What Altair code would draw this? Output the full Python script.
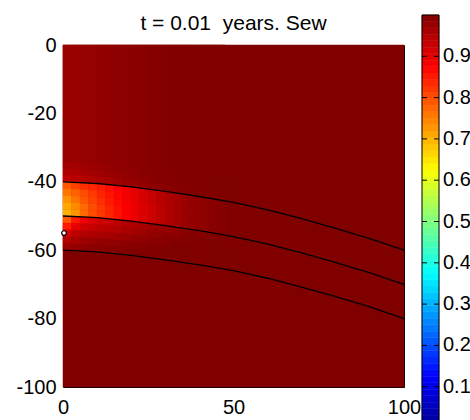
import numpy as np
import pandas as pd
import altair as alt

FONT = "Liberation Sans"

# layer boundaries (depth in m) sampled along the section
CURVE_X = [0, 10, 20, 30, 40, 50, 60, 70, 80, 90, 100]
TOP = [-40.0, -40.5, -41.5, -42.8, -44.3, -46.0, -48.2, -50.8, -53.6, -56.6, -60.0]
MID = [-50.0, -50.5, -51.5, -52.8, -54.3, -56.0, -58.2, -60.8, -63.6, -66.6, -70.0]
BOT = [-60.0, -60.5, -61.5, -62.8, -64.3, -66.0, -68.2, -70.8, -73.6, -76.6, -80.0]

# injection point
WELL_X = [0.3]
WELL_Y = [-55.0]

# saturation columns near the left boundary (column centres, 2.5 m wide)
COL_X = [1.25, 3.75, 6.25, 8.75, 11.25, 13.75, 16.25, 18.75, 21.25, 23.75,
         26.25, 28.75, 31.25, 33.75, 36.25, 38.75, 41.25, 43.75, 46.25]
COL_W = 2.5

# upper layer: far field, then 2 m bands just above the top boundary
UP_FAR = [0.975, 0.975, 0.977, 0.979, 0.981, 0.983, 0.985, 0.987, 0.989, 0.991,
          0.993, 0.995, 0.997, 0.998, 0.999, 1.0, 1.0, 1.0, 1.0]
UP_6 = [0.965, 0.967, 0.970, 0.973, 0.976, 0.979, 0.982, 0.985, 0.987, 0.990,
        0.992, 0.994, 0.996, 0.998, 0.999, 1.0, 1.0, 1.0, 1.0]
UP_4 = [0.955, 0.957, 0.961, 0.965, 0.969, 0.973, 0.977, 0.981, 0.984, 0.987,
        0.990, 0.993, 0.995, 0.997, 0.998, 0.999, 1.0, 1.0, 1.0]
UP_2 = [0.940, 0.943, 0.948, 0.953, 0.958, 0.963, 0.968, 0.973, 0.977, 0.981,
        0.985, 0.988, 0.991, 0.994, 0.996, 0.998, 0.999, 1.0, 1.0]

# first layer (between top and middle boundary), five bands top to bottom
L1 = [
    [0.79, 0.81, 0.83, 0.84, 0.85, 0.86, 0.875, 0.89, 0.90, 0.915, 0.93, 0.945, 0.955, 0.965, 0.975, 0.98, 0.985, 0.99, 0.995],
    [0.76, 0.78, 0.80, 0.82, 0.84, 0.855, 0.87, 0.885, 0.90, 0.915, 0.93, 0.945, 0.955, 0.965, 0.975, 0.98, 0.985, 0.99, 0.995],
    [0.73, 0.76, 0.79, 0.81, 0.83, 0.85, 0.865, 0.88, 0.895, 0.91, 0.925, 0.94, 0.955, 0.965, 0.975, 0.98, 0.985, 0.99, 0.995],
    [0.71, 0.74, 0.77, 0.80, 0.82, 0.84, 0.86, 0.88, 0.895, 0.91, 0.925, 0.94, 0.955, 0.965, 0.975, 0.98, 0.985, 0.99, 0.995],
    [0.70, 0.73, 0.77, 0.80, 0.82, 0.84, 0.86, 0.88, 0.895, 0.91, 0.925, 0.94, 0.955, 0.965, 0.975, 0.98, 0.985, 0.99, 0.995],
]

# second layer, 2 m bands below the middle boundary
L2 = [
    [0.79, 0.85, 0.89, 0.91, 0.92, 0.93, 0.94, 0.95, 0.955, 0.96, 0.97, 0.975, 0.98, 0.985, 0.99, 0.993, 0.996, 0.998, 1.0],
    [0.85, 0.90, 0.92, 0.93, 0.94, 0.945, 0.95, 0.96, 0.965, 0.97, 0.98, 0.985, 0.99, 0.99, 0.995, 0.997, 0.998, 1.0, 1.0],
    [0.91, 0.94, 0.95, 0.955, 0.96, 0.965, 0.97, 0.975, 0.98, 0.985, 0.99, 0.99, 0.995, 1.0, 1.0, 1.0, 1.0, 1.0, 1.0],
    [0.95, 0.96, 0.97, 0.975, 0.98, 0.98, 0.985, 0.99, 0.99, 0.995, 1.0, 1.0, 1.0, 1.0, 1.0, 1.0, 1.0, 1.0, 1.0],
    [0.97, 0.98, 0.985, 0.99, 0.99, 0.99, 0.995, 1.0, 1.0, 1.0, 1.0, 1.0, 1.0, 1.0, 1.0, 1.0, 1.0, 1.0, 1.0],
]

BACKGROUND = 1.0

# jet colour map, shown as a 64-step colour bar
JET_STOPS = [0.0, 0.125, 0.375, 0.625, 0.875, 1.0]
JET_COLORS = ["#00008f", "#0000ff", "#00ffff", "#ffff00", "#ff0000", "#800000"]
CBAR_STEPS = 64
CBAR_TICKS = [0.1, 0.2, 0.3, 0.4, 0.5, 0.6, 0.7, 0.8, 0.9]

TITLE = "t = 0.01\u00a0 years. Sew"

# ---- build the cell table ----
cells = [dict(x0=0.0, x1=100.0, y0=-100.0, y1=0.0, v=BACKGROUND)]
for i, cx in enumerate(COL_X):
    x0, x1 = cx - COL_W / 2, cx + COL_W / 2
    t = float(np.interp(cx, CURVE_X, TOP))
    m = float(np.interp(cx, CURVE_X, MID))
    cells.append(dict(x0=x0, x1=x1, y0=t + 6, y1=0.0, v=UP_FAR[i]))
    for (lo, hi), row in zip([(4, 6), (2, 4), (0, 2)], [UP_6, UP_4, UP_2]):
        cells.append(dict(x0=x0, x1=x1, y0=t + lo, y1=t + hi, v=row[i]))
    h = (t - m) / len(L1)
    for k, row in enumerate(L1):
        cells.append(dict(x0=x0, x1=x1, y0=t - (k + 1) * h, y1=t - k * h, v=row[i]))
    for k, row in enumerate(L2):
        cells.append(dict(x0=x0, x1=x1, y0=m - 2 * (k + 1), y1=m - 2 * k, v=row[i]))
field = pd.DataFrame(cells)

curves = pd.concat([
    pd.DataFrame({"cx": CURVE_X, "cy": TOP, "curve": "top"}),
    pd.DataFrame({"cx": CURVE_X, "cy": MID, "curve": "mid"}),
    pd.DataFrame({"cx": CURVE_X, "cy": BOT, "curve": "bot"}),
])
well = pd.DataFrame({"wx": WELL_X, "wy": WELL_Y})

edges = np.linspace(0.0, 1.0, CBAR_STEPS + 1)
bands = pd.DataFrame({"lo": edges[:-1], "hi": edges[1:], "lv": (edges[:-1] + edges[1:]) / 2})
frame = pd.DataFrame({"lo": [0.0], "hi": [1.0]})
ticks = pd.DataFrame({"t": CBAR_TICKS})

xs = alt.Scale(domain=[0, 100], nice=False, zero=False)
ys = alt.Scale(domain=[-100, 0], nice=False, zero=False)
jet = alt.Scale(domain=JET_STOPS, range=JET_COLORS, interpolate="rgb", clamp=True)

heat = alt.Chart(field).mark_rect(strokeWidth=0.5).encode(
    x=alt.X("x0:Q", scale=xs, axis=alt.Axis(values=[0, 50, 100], title=None,
                                            labelPadding=10, labelFlush=False)),
    x2="x1:Q",
    y=alt.Y("y0:Q", scale=ys, axis=alt.Axis(values=[0, -20, -40, -60, -80, -100], title=None,
                                            labelPadding=7, labelFlush=False,
                                            labelExpr="'' + datum.value")),
    y2="y1:Q",
    color=alt.Color("v:Q", scale=jet, legend=None),
    stroke=alt.Stroke("v:Q", scale=jet, legend=None),
)

lines = alt.Chart(curves).mark_line(color="black", strokeWidth=1.3).encode(
    x=alt.X("cx:Q", scale=xs),
    y=alt.Y("cy:Q", scale=ys),
    detail="curve:N",
)

point = alt.Chart(well).mark_point(shape="circle", filled=True, fill="white",
                                   stroke="black", strokeWidth=1.2, size=22, opacity=1).encode(
    x=alt.X("wx:Q", scale=xs),
    y=alt.Y("wy:Q", scale=ys),
)

main = alt.layer(heat, lines, point)

# colour bar to the right of the plot, on its own vertical scale
cb = alt.Scale(domain=[0, 1], range=[383, -30])
CB_LEFT, CB_RIGHT = 359, 376
cb_bands = alt.Chart(bands).mark_rect(strokeWidth=0.5).encode(
    y=alt.Y("lo:Q", scale=cb, axis=None), y2="hi:Q",
    x=alt.value(CB_LEFT), x2=alt.value(CB_RIGHT),
    color=alt.Color("lv:Q", scale=jet, legend=None),
    stroke=alt.Stroke("lv:Q", scale=jet, legend=None),
)
cb_frame = alt.Chart(frame).mark_rect(fillOpacity=0, stroke="black", strokeWidth=1).encode(
    y=alt.Y("lo:Q", scale=cb, axis=None), y2="hi:Q",
    x=alt.value(CB_LEFT), x2=alt.value(CB_RIGHT),
)
tick_left = alt.Chart(ticks).mark_rule(color="black", strokeWidth=1).encode(
    y=alt.Y("t:Q", scale=cb, axis=None), x=alt.value(CB_LEFT), x2=alt.value(CB_LEFT + 5))
tick_right = alt.Chart(ticks).mark_rule(color="black", strokeWidth=1).encode(
    y=alt.Y("t:Q", scale=cb, axis=None), x=alt.value(CB_RIGHT - 5), x2=alt.value(CB_RIGHT))
tick_labels = alt.Chart(ticks).mark_text(align="left", baseline="middle", font=FONT,
                                         fontSize=20, color="black").encode(
    y=alt.Y("t:Q", scale=cb, axis=None), x=alt.value(CB_RIGHT + 4),
    text=alt.Text("t:Q", format=".1f"),
)
cbar = alt.layer(cb_bands, cb_frame, tick_left, tick_right, tick_labels)

chart = alt.layer(main, cbar).resolve_scale(y="independent").properties(
    width=341, height=342,
    padding={"left": 63, "top": 45, "right": 66, "bottom": 33},
    autosize=alt.AutoSizeParams(type="none"),
    title=alt.Title(TITLE, font=FONT, fontSize=21, fontWeight="normal",
                    color="black", anchor="middle", frame="group", baseline="alphabetic", offset=-36),
).configure_view(stroke="black", strokeWidth=1).configure_axis(
    labelFont=FONT, labelFontSize=20, labelColor="black", ticks=False, tickSize=0,
    domain=False, grid=False)

chart.save("out.html", embed_options={"renderer": "svg", "actions": False})
